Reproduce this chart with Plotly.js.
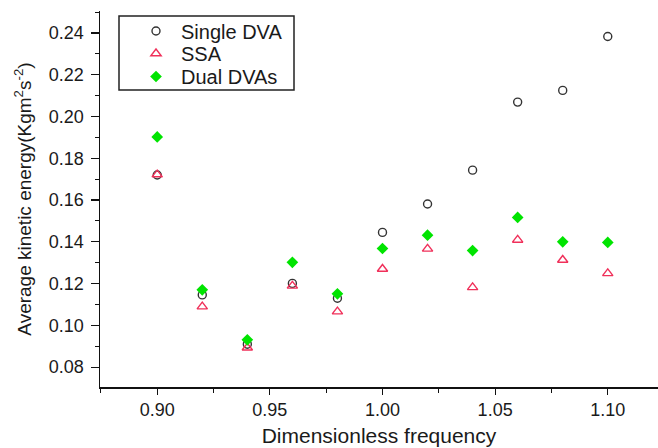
<!DOCTYPE html>
<html>
<head>
<meta charset="utf-8">
<script src="https://cdn.plot.ly/plotly-3.0.1.min.js"></script>
<style>html,body{margin:0;padding:0;background:#fff;}#chart{width:658px;height:448px;}</style>
</head>
<body>
<div id="chart"></div>
<script>
const frequency = [0.90, 0.92, 0.94, 0.96, 0.98, 1.00, 1.02, 1.04, 1.06, 1.08, 1.10];
const singleDVA = [0.172, 0.1146, 0.091, 0.1201, 0.113, 0.1445, 0.1581, 0.1743, 0.2069, 0.2125, 0.2383];
const ssa       = [0.1722, 0.109, 0.0893, 0.1189, 0.1066, 0.127, 0.1366, 0.1182, 0.1409, 0.1313, 0.1249];
const dualDVAs  = [0.1902, 0.117, 0.0931, 0.1302, 0.1151, 0.1368, 0.1432, 0.1358, 0.1517, 0.140, 0.1397];
const seriesNames = ["Single DVA", "SSA", "Dual DVAs"];

const font = "Liberation Sans, Arial, sans-serif";
const txt = "#1a1a1a";

// plot area geometry (px) for converting legend placement to paper coords
const W = 658, H = 448, L = 100, R = 0, T = 11, B = 61;
const pw = W - L - R, ph = H - T - B;
const px = v => (v - L) / pw;
const py = v => (H - B - v) / ph;

const traces = [
  {x: frequency, y: singleDVA, name: seriesNames[0], type: "scatter", mode: "markers", legend: "legend",
   marker: {symbol: "circle-open", size: 8, color: "#333333", line: {width: 1.4, color: "#333333"}}},
  {x: frequency, y: ssa, name: seriesNames[1], type: "scatter", mode: "markers", legend: "legend2",
   marker: {symbol: "triangle-up-open", size: 9, color: "#f0305a", line: {width: 1.4, color: "#f0305a"}}},
  {x: frequency, y: dualDVAs, name: seriesNames[2], type: "scatter", mode: "markers", legend: "legend3",
   marker: {symbol: "diamond", size: 9, color: "#00e400", line: {width: 0}}}
];

function leg(yc) {
  return {x: px(131), y: py(yc), xanchor: "left", yanchor: "middle",
          bgcolor: "rgba(0,0,0,0)", borderwidth: 0, itemwidth: 40,
          font: {family: font, size: 20, color: txt}};
}

const layout = {
  width: W, height: H,
  margin: {l: L, r: R, t: T, b: B},
  paper_bgcolor: "#ffffff", plot_bgcolor: "#ffffff",
  font: {family: font, color: txt, size: 18},
  showlegend: true,
  legend: leg(31),
  legend2: leg(53.5),
  legend3: leg(76.5),
  shapes: [{type: "rect", xref: "paper", yref: "paper", layer: "above",
            x0: px(119), x1: px(294), y0: py(90), y1: py(16),
            line: {color: "#222222", width: 1.5}, fillcolor: "#ffffff"}],
  xaxis: {
    range: [0.8746, 1.1223], dtick: 0.05, tick0: 0.9, tickformat: ".2f",
    showgrid: false, zeroline: false, showline: true, linecolor: "#111111", linewidth: 1.5,
    ticks: "outside", ticklen: 6, tickwidth: 1.2, tickcolor: "#111111",
    minor: {dtick: 0.025, tick0: 0.9, ticks: "outside", ticklen: 4, tickwidth: 1, tickcolor: "#111111", showgrid: false},
    tickfont: {family: font, size: 18, color: txt},
    title: {text: "Dimensionless frequency", font: {family: font, size: 21, color: txt}, standoff: 9}
  },
  yaxis: {
    range: [0.0705, 0.2505], dtick: 0.02, tick0: 0.08, tickformat: ".2f",
    showgrid: false, zeroline: false, showline: true, linecolor: "#111111", linewidth: 1.5,
    ticks: "outside", ticklen: 8, tickwidth: 1.2, tickcolor: "#111111", ticklabelstandoff: 3,
    minor: {dtick: 0.01, tick0: 0.08, ticks: "outside", ticklen: 4, tickwidth: 1, tickcolor: "#111111", showgrid: false},
    tickfont: {family: font, size: 18, color: txt},
    title: {text: "Average kinetic energy(Kgm<sup>2</sup>s<sup>-2</sup>)", font: {family: font, size: 19, color: txt}, standoff: 12}
  }
};

Plotly.newPlot("chart", traces, layout, {displayModeBar: false, staticPlot: true});
</script>
</body>
</html>
